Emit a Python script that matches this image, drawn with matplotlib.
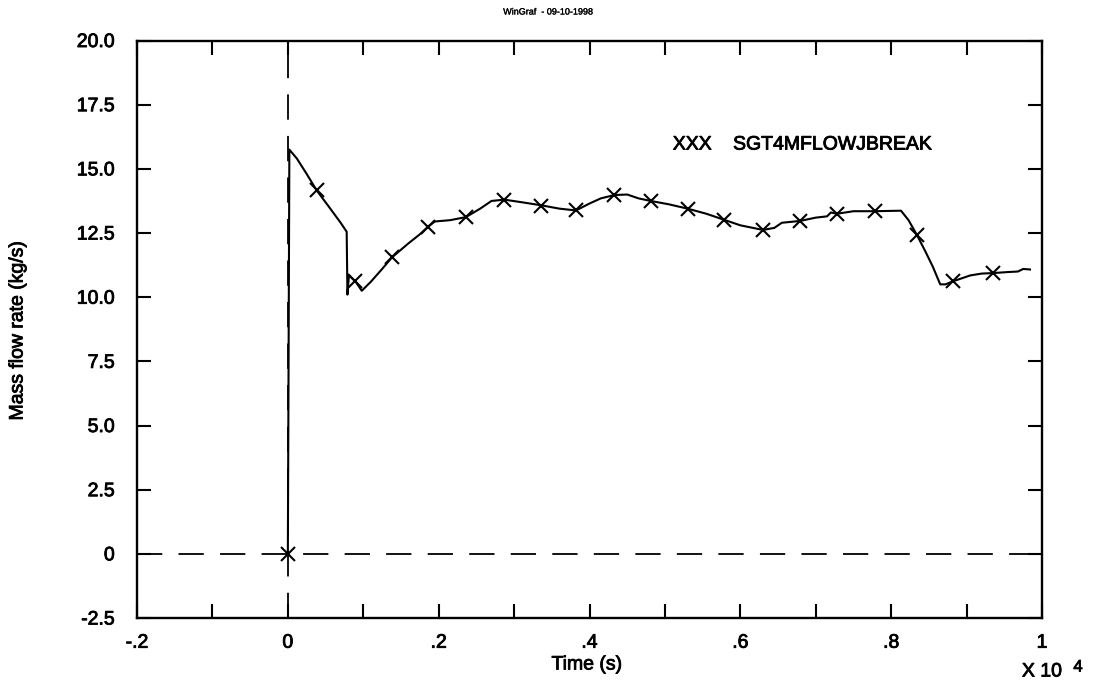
import numpy as np
import matplotlib
matplotlib.use("Agg")
import matplotlib.pyplot as plt
import matplotlib.patheffects as pe
from matplotlib.ticker import MultipleLocator, FixedLocator

plt.rcParams['font.family'] = ['Liberation Sans', 'DejaVu Sans']

# time in units of 10^4 s, mass flow rate in kg/s
time = [0.000, 0.002, 0.012, 0.025, 0.038, 0.055, 0.070, 0.078, 0.079, 0.081,
        0.090, 0.098, 0.110, 0.125, 0.138, 0.160, 0.175, 0.186, 0.195, 0.215,
        0.236, 0.255, 0.270, 0.287, 0.310, 0.336, 0.360, 0.382, 0.400, 0.415,
        0.433, 0.450, 0.465, 0.481, 0.505, 0.530, 0.555, 0.578, 0.600, 0.630,
        0.645, 0.655, 0.679, 0.700, 0.715, 0.720, 0.728, 0.750, 0.778, 0.813,
        0.823, 0.834, 0.845, 0.855, 0.865, 0.872, 0.882, 0.895, 0.905, 0.920,
        0.935, 0.955, 0.968, 0.975, 0.984]
flow = [0.00, 15.75, 15.40, 14.80, 14.17, 13.50, 12.90, 12.55, 10.10, 10.85,
        10.60, 10.25, 10.60, 11.10, 11.55, 12.10, 12.45, 12.75, 12.95, 13.00,
        13.12, 13.45, 13.75, 13.80, 13.70, 13.58, 13.45, 13.38, 13.65, 13.85,
        13.98, 14.00, 13.85, 13.75, 13.62, 13.45, 13.25, 13.02, 12.80, 12.62,
        12.70, 12.90, 12.97, 13.10, 13.15, 13.30, 13.25, 13.35, 13.35, 13.37,
        13.00, 12.43, 11.80, 11.20, 10.50, 10.50, 10.62, 10.75, 10.85, 10.92,
        10.94, 10.98, 11.00, 11.10, 11.08]

# symbol positions along the curve
mark_time = [0.000, 0.038, 0.089, 0.138, 0.186, 0.236, 0.287, 0.336, 0.382, 0.433,
             0.481, 0.530, 0.578, 0.630, 0.679, 0.728, 0.778, 0.834, 0.882, 0.935]
mark_flow = [0.00, 14.17, 10.65, 11.55, 12.73, 13.14, 13.79, 13.57, 13.40, 13.98,
             13.75, 13.44, 13.01, 12.62, 12.97, 13.25, 13.35, 12.43, 10.65, 10.94]

x_ticks = [-0.2, 0.0, 0.2, 0.4, 0.6, 0.8, 1.0]
x_tick_labels = ['-.2', '0', '.2', '.4', '.6', '.8', '1']
y_ticks = [-2.5, 0, 2.5, 5, 7.5, 10, 12.5, 15, 17.5, 20]
y_tick_labels = ['-2.5', '0', '2.5', '5.0', '7.5', '10.0', '12.5', '15.0', '17.5', '20.0']

# slightly heavier glyphs, like a photocopied plot
ink = [pe.withStroke(linewidth=0.6, foreground='black')]
ink_small = [pe.withStroke(linewidth=0.2, foreground='black')]

fig = plt.figure(figsize=(10.97, 6.88), dpi=100)
ax = fig.add_axes([0.1249, 0.1017, 0.8250, 0.8394])

ax.axhline(0, color='black', lw=1.3, dashes=(14, 9))
ax.axvline(0, color='black', lw=1.3, dashes=(14, 9))

ax.plot(time, flow, color='black', lw=1.5)
ax.plot(mark_time, mark_flow, ls='none', marker='x', ms=10, mew=1.5, color='black')

ax.set_xlim(-0.2, 1.0)
ax.set_ylim(-2.5, 20)
ax.xaxis.set_major_locator(FixedLocator(x_ticks))
ax.set_xticklabels(x_tick_labels)
ax.xaxis.set_minor_locator(MultipleLocator(0.1))
ax.yaxis.set_major_locator(FixedLocator(y_ticks))
ax.set_yticklabels(y_tick_labels)

ax.tick_params(which='both', direction='in', top=True, right=True,
               length=10, width=1.5, labelsize=14)
ax.tick_params(axis='x', which='major', pad=12)
ax.tick_params(axis='y', which='major', pad=16)
for s in ax.spines.values():
    s.set_linewidth(1.7)
for lbl in ax.get_xticklabels() + ax.get_yticklabels():
    lbl.set_path_effects(ink)

ax.text(0.592, 0.819, 'XXX', transform=ax.transAxes, fontsize=14, va='center',
        path_effects=ink)
ax.text(0.6586, 0.819, 'SGT4MFLOWJBREAK', transform=ax.transAxes, fontsize=14,
        va='center', path_effects=ink)

fig.text(548 / 1097, 1 - 12 / 688, 'WinGraf  - 09-10-1998', fontsize=6.5,
         ha='center', va='center', path_effects=ink_small)
fig.text(18 / 1097, 1 - 330 / 688, 'Mass flow rate (kg/s)', fontsize=14,
         rotation=90, ha='center', va='center', path_effects=ink)
fig.text(587 / 1097, 1 - 665 / 688, 'Time (s)', fontsize=14, ha='center',
         va='center', path_effects=ink)
fig.text(1042 / 1097, 1 - 672 / 688, 'X 10', fontsize=14, ha='center',
         va='center', path_effects=ink)
fig.text(1078 / 1097, 1 - 667 / 688, '4', fontsize=12, ha='center',
         va='center', path_effects=ink)

fig.savefig('out.png', dpi=100)
